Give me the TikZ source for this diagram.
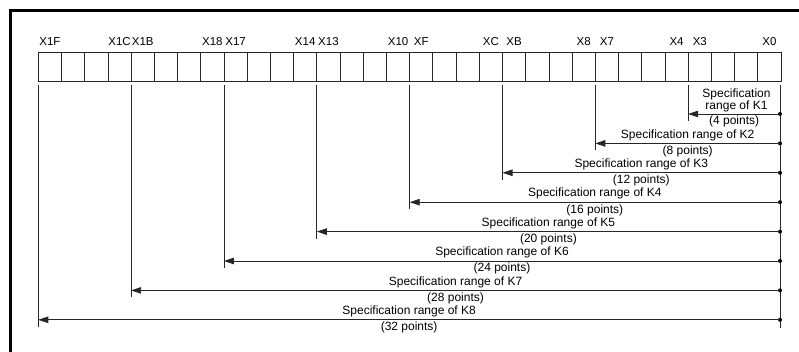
\documentclass[tikz,border=0pt]{standalone}
\usepackage{fontspec}
\setmainfont{Liberation Sans}
\usetikzlibrary{arrows.meta}
\begin{document}
\begin{tikzpicture}[x=1pt,y=-1pt,
  cell/.style={draw=black!85, line width=0.8pt, minimum width=23.21pt, minimum height=28.7pt, inner sep=0pt, outer sep=0pt},
  bitlbl/.style={font=\fontsize{11.5}{13}\selectfont, inner sep=0pt, anchor=base},
  txt/.style={font=\fontsize{12}{11}\selectfont, inner sep=0pt, anchor=base, align=center},
  wire/.style={line width=0.8pt, draw=black!85},
  rng/.style={line width=0.8pt, draw=black!85, -{Triangle[length=10pt,width=6.5pt]}},
  dot/.style={circle, fill=black, inner sep=0pt, minimum size=4pt},
  frame/.style={line width=3pt, draw=black}
]
\useasboundingbox (0,0) rectangle (799,352);
% outer frame (only top and left edges visible)
\coordinate (fbl) at (10.5,360);
\coordinate (ftl) at (10.5,10.2);
\coordinate (ftr) at (810,10.2);
\draw[frame] (fbl) -- (ftl) -- (ftr);
% register cells
\foreach \i in {0,...,31}
  \node[cell] (c\i) at ({38.3+(\i+0.5)*23.21}, 66.65) {};
% bit labels
\foreach \i/\t in {0/X1F,3/X1C,4/X1B,7/X18,8/X17,11/X14,12/X13,15/X10,16/XF,19/XC,20/XB,23/X8,24/X7,27/X4,28/X3,31/X0}
  \node[bitlbl] (l\i) at ({38.3+(\i+0.5)*23.21}, 46) {\t};
% ranges
\coordinate (rt) at (780,85);
\coordinate (rb) at (780,328);
\draw[wire] (rt) -- (rb);
\foreach \k in {1,...,8}{
  \pgfmathsetmacro\bx{38.3+(32-4*\k)*23.21}
  \pgfmathsetmacro\ay{114+(\k-1)*29.4}
  \pgfmathsetmacro\mx{(\bx+780)/2}
  \pgfmathtruncatemacro\pts{4*\k}
  \coordinate (t\k) at (\bx,85);
  \coordinate (a\k) at (\bx,\ay);
  \coordinate (b\k) at (\bx,\ay+7);
  \draw[wire] (t\k) -- (b\k);
  \node[dot] (r\k) at (780,\ay) {};
  \draw[rng] (r\k.center) -- (a\k);
  \node[txt] (p\k) at (\mx,\ay+11) {(\pts\ points)};
}
\node[txt] (s1) at (736.5,109.7) {Specification\\range of K1};
\foreach \k in {2,...,8}{
  \pgfmathsetmacro\bx{38.3+(32-4*\k)*23.21}
  \pgfmathsetmacro\ay{114+(\k-1)*29.4}
  \pgfmathsetmacro\mx{(\bx+780)/2}
  \node[txt] (s\k) at (\mx,\ay-5.3) {Specification range of K\k};
}
\end{tikzpicture}
\end{document}
